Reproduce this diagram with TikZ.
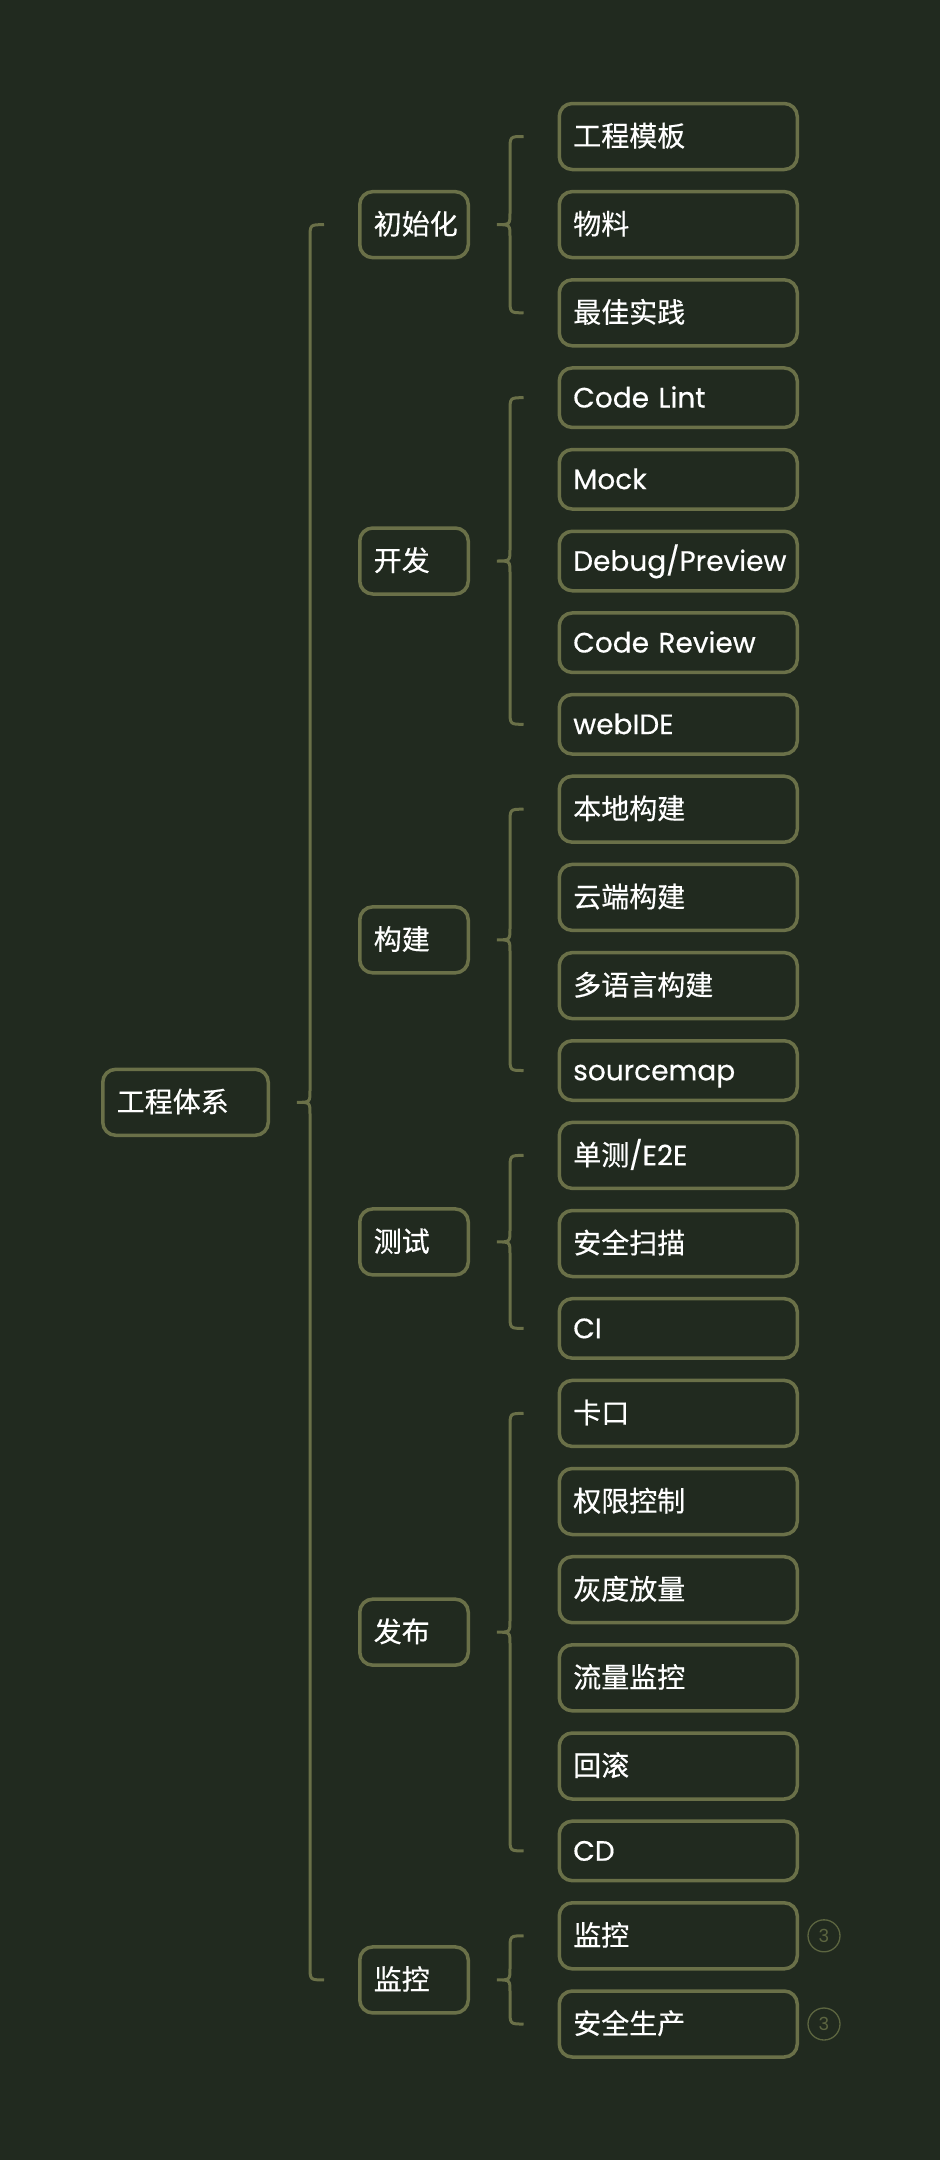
\documentclass[tikz,border=0pt]{standalone}
\usepackage{fontspec}
\setmainfont{Poppins}[FakeBold=0.4]
\newfontfamily\cjk{Noto Sans CJK SC}[FakeBold=0.4]
\newfontfamily\badgefont{Poppins}
\usetikzlibrary{calc}
\definecolor{bgc}{HTML}{212A1F}
\definecolor{edgec}{HTML}{6A7048}
\definecolor{dimc}{HTML}{5C6540}
\newcommand\mybrace[3]{%
  \draw[conn] let \p1=(#1.east), \p2=(#2.west), \p3=(#3.west) in
    (\x2-34pt,\y2) .. controls (\x1+40pt,\y2) .. (\x1+40pt,\y2-14pt)
    -- (\x1+40pt,\y1+12pt) .. controls (\x1+40pt,\y1) .. (\x1+27pt,\y1)
    .. controls (\x1+40pt,\y1) .. (\x1+40pt,\y1-12pt)
    -- (\x1+40pt,\y3+14pt) .. controls (\x1+40pt,\y3) .. (\x2-34pt,\y3);}
\begin{document}
\begin{tikzpicture}[x=1pt,y=-1pt,
  box/.style={draw=edgec, line width=3.5pt, rounded corners=13pt, text=white,
    font=\fontsize{28}{34}\selectfont, anchor=west, text height=19.6pt,
    text depth=0pt, inner xsep=14pt, inner ysep=0pt, align=left},
  rootbox/.style={box, text width=137.5pt, minimum height=66pt},
  midbox/.style={box, text width=80.5pt, minimum height=66pt},
  leafc/.style={box, text width=210pt, minimum height=66pt},
  leafl/.style={box, text width=210pt, minimum height=59.5pt},
  conn/.style={draw=edgec, line width=3pt},
  badge/.style={circle, draw=dimc, line width=1.3pt, minimum size=32pt,
    inner sep=0pt, text=dimc, font=\badgefont\fontsize{18}{20}\selectfont}
]
\fill[bgc] (0,0) rectangle (940,2160);
\useasboundingbox (0,0) rectangle (940,2160);

% root
\node[rootbox] (root) at (101,1102.3) {\cjk 工程体系};

% level 1
\node[midbox] (m1) at (358,224.65) {\cjk 初始化};
\node[midbox] (m2) at (358,561) {\cjk 开发};
\node[midbox] (m3) at (358,939.85) {\cjk 构建};
\node[midbox] (m4) at (358,1241.9) {\cjk 测试};
\node[midbox] (m5) at (358,1632.15) {\cjk 发布};
\node[midbox] (m6) at (358,1979.9) {\cjk 监控};

% leaves
\node[leafc] (l1) at (557.5,136.5) {\cjk 工程模板};
\node[leafc] (l2) at (557.5,224.6) {\cjk 物料};
\node[leafc] (l3) at (557.5,312.8) {\cjk 最佳实践};
\node[leafl] (l4) at (557.5,397.7) {Code Lint};
\node[leafl] (l5) at (557.5,479.3) {Mock};
\node[leafl] (l6) at (557.5,561) {Debug/Preview};
\node[leafl] (l7) at (557.5,642.7) {Code Review};
\node[leafl] (l8) at (557.5,724.3) {webIDE};
\node[leafc] (l9) at (557.5,809.2) {\cjk 本地构建};
\node[leafc] (l10) at (557.5,897.4) {\cjk 云端构建};
\node[leafc] (l11) at (557.5,985.6) {\cjk 多语言构建};
\node[leafl] (l12) at (557.5,1070.5) {sourcemap};
\node[leafc] (l13) at (557.5,1155.4) {{\cjk 单测}/E2E};
\node[leafc] (l14) at (557.5,1243.5) {\cjk 安全扫描};
\node[leafl] (l15) at (557.5,1328.4) {CI};
\node[leafc] (l16) at (557.5,1413.4) {\cjk 卡口};
\node[leafc] (l17) at (557.5,1501.5) {\cjk 权限控制};
\node[leafc] (l18) at (557.5,1589.7) {\cjk 灰度放量};
\node[leafc] (l19) at (557.5,1677.8) {\cjk 流量监控};
\node[leafc] (l20) at (557.5,1766) {\cjk 回滚};
\node[leafl] (l21) at (557.5,1850.9) {CD};
\node[leafc] (l22) at (557.5,1935.8) {\cjk 监控};
\node[leafc] (l23) at (557.5,2024) {\cjk 安全生产};

% badges
\node[badge] (b1) at ($(l22.east)+(25,0)$) {3};
\node[badge] (b2) at ($(l23.east)+(25,0)$) {3};

% braces
\mybrace{root}{m1}{m6}
\mybrace{m1}{l1}{l3}
\mybrace{m2}{l4}{l8}
\mybrace{m3}{l9}{l12}
\mybrace{m4}{l13}{l15}
\mybrace{m5}{l16}{l21}
\mybrace{m6}{l22}{l23}
\end{tikzpicture}
\end{document}
